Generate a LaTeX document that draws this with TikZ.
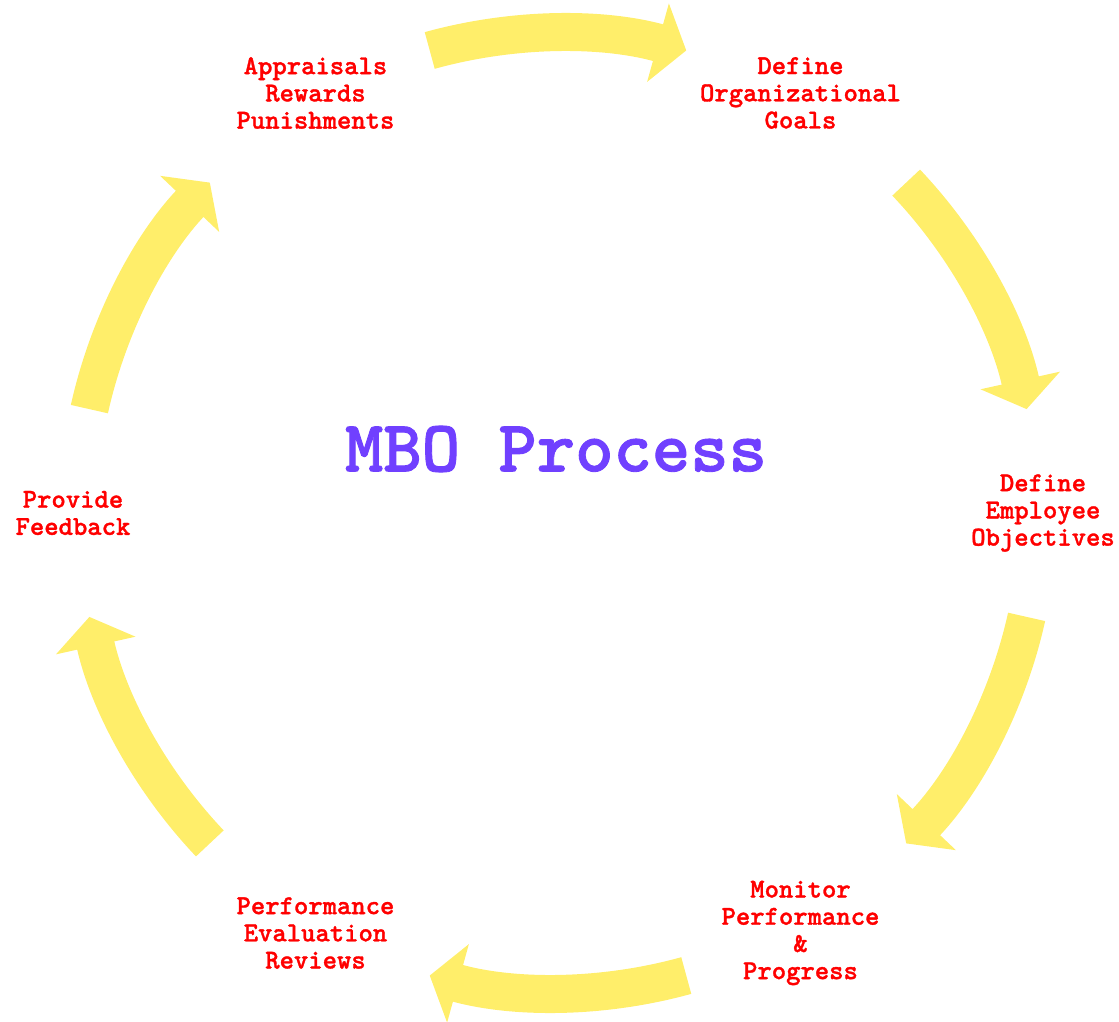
\documentclass[tikz,border=0pt]{standalone}
\usepackage{fontspec}
\newfontfamily\stepfont{lmmonolt10-bold.otf}[FakeBold=1.2]
\usetikzlibrary{positioning}
\usetikzlibrary{arrows.meta}
\definecolor{mbopurple}{RGB}{112,64,255}
\definecolor{mboyellow}{RGB}{255,238,106}

\begin{document}
\begin{tikzpicture}[x=0.75pt,y=0.75pt,
	step node/.style={text=red,font=\stepfont\fontsize{20.5}{20.4}\selectfont,align=center},
	cycle arrow/.style={draw=mboyellow,line width=28.5pt,-{Triangle[length=22pt,width=60pt]}}]

			\useasboundingbox (-558,-508) rectangle (561,513);

			\coordinate (c) at (0,0);
			\node[text=mbopurple,font=\stepfont\fontsize{54.8}{60}\selectfont] (title) at (-2,64) {MBO Process};

			\node[step node] (goals) at (60:485) {Define\\Organizational\\Goals};
			\node[step node] (objectives) at (0:485) {Define\\Employee\\Objectives};
			\node[step node] (monitor) at (-60:485) {Monitor\\Performance\\\&\\Progress};
			\node[step node] (review) at (-120:485) {Performance\\Evaluation\\Reviews};
			\node[step node] (feedback) at (180:485) {Provide\\Feedback};
			\node[step node] (rewards) at (120:485) {Appraisals\\Rewards\\Punishments};

			\draw[cycle arrow] ([shift={(105.5:480)}]c) arc[start angle=105.5,end angle=74.5,radius=480];
			\draw[cycle arrow] ([shift={(43.5:480)}]c) arc[start angle=43.5,end angle=12.5,radius=480];
			\draw[cycle arrow] ([shift={(-12.5:480)}]c) arc[start angle=-12.5,end angle=-43.5,radius=480];
			\draw[cycle arrow] ([shift={(-74.5:480)}]c) arc[start angle=-74.5,end angle=-105.5,radius=480];
			\draw[cycle arrow] ([shift={(-136.5:480)}]c) arc[start angle=-136.5,end angle=-167.5,radius=480];
			\draw[cycle arrow] ([shift={(167.5:480)}]c) arc[start angle=167.5,end angle=136.5,radius=480];
		\end{tikzpicture}
\end{document}
